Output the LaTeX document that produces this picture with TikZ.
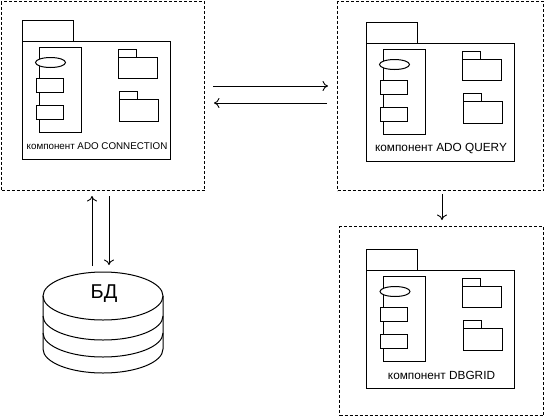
\documentclass[tikz,border=0pt]{standalone}
\usepackage{fontspec}
\setmainfont{Liberation Sans}
\usepackage{tikz}
\usetikzlibrary{shapes,arrows.meta,positioning}

\tikzset{
    pics/component/.style 2 args={code={
        \draw[part] (0,0) rectangle (51,21);
        \draw[part] (0,21) rectangle (148,139);
        \draw[part] (17,27) rectangle (59,112);
        \node[part, ellipse, minimum width=30pt, minimum height=10pt, inner sep=0pt] (-oval) at (28.5,42.5) {};
        \node[part, minimum width=27pt, minimum height=14pt, inner sep=0pt] (-rectup) at (27.5,65.5) {};
        \node[part, minimum width=27pt, minimum height=14pt, inner sep=0pt] (-rectdown) at (27.5,92) {};
        \draw[part] (96,29) rectangle (114,37);
        \draw[part] (96,37) rectangle (135,58);
        \draw[part] (97,71) rectangle (115,79);
        \draw[part] (97,79) rectangle (136,101);
        \node[font=\fontsize{#1}{13pt}\selectfont] (-label) at (75,126) {#2};
    }}
}

\begin{document}
\begin{tikzpicture}[
    x=1pt, y=-1pt,
    part/.style={draw, fill=white, line width=1pt},
    frame/.style={draw, line width=1pt, dash pattern=on 3pt off 2pt, anchor=north west, inner sep=0pt},
    edge/.style={-{To[length=5.5pt,width=10pt]}, line width=0.9pt}
]
    \useasboundingbox (0,0) rectangle (544,416);

    \node[frame, minimum width=203pt, minimum height=189pt] (connframe) at (1,1) {};
    \node[frame, minimum width=206pt, minimum height=189pt] (queryframe) at (337,1) {};
    \node[frame, minimum width=204pt, minimum height=189pt] (gridframe) at (339,226) {};

    \pic (conn) at (22,20) {component={9.8pt}{компонент ADO CONNECTION}};
    \pic (query) at (366,22) {component={11.8pt}{компонент ADO QUERY}};
    \pic (grid) at (366.5,249) {component={11.8pt}{компонент DBGRID}};

    % database
    \draw[line width=1pt] (43,296) -- (43,349) arc[start angle=180, end angle=360, x radius=60pt, y radius=24pt] -- (163,296);
    \draw[line width=1pt] (103,296) ellipse [x radius=60pt, y radius=24pt];
    \draw[line width=1pt] (43,316) arc[start angle=180, end angle=360, x radius=60pt, y radius=24pt];
    \draw[line width=1pt] (43,333) arc[start angle=180, end angle=360, x radius=60pt, y radius=24pt];
    \node[font=\fontsize{20pt}{24pt}\selectfont] (db) at (104,294) {БД};

    \coordinate (connright) at (213,86);
    \coordinate (queryleft) at (328,86);
    \coordinate (queryback) at (327,103);
    \coordinate (connback) at (214,103);
    \coordinate (querydown) at (442,194);
    \coordinate (gridtop) at (442,220);
    \coordinate (dbup) at (92,266);
    \coordinate (connup) at (92,196);
    \coordinate (conndown) at (109,196);
    \coordinate (dbdown) at (109,265);

    \draw[edge] (connright) -- (queryleft);
    \draw[edge] (queryback) -- (connback);
    \draw[edge] (querydown) -- (gridtop);
    \draw[edge] (dbup) -- (connup);
    \draw[edge] (conndown) -- (dbdown);
\end{tikzpicture}
\end{document}
